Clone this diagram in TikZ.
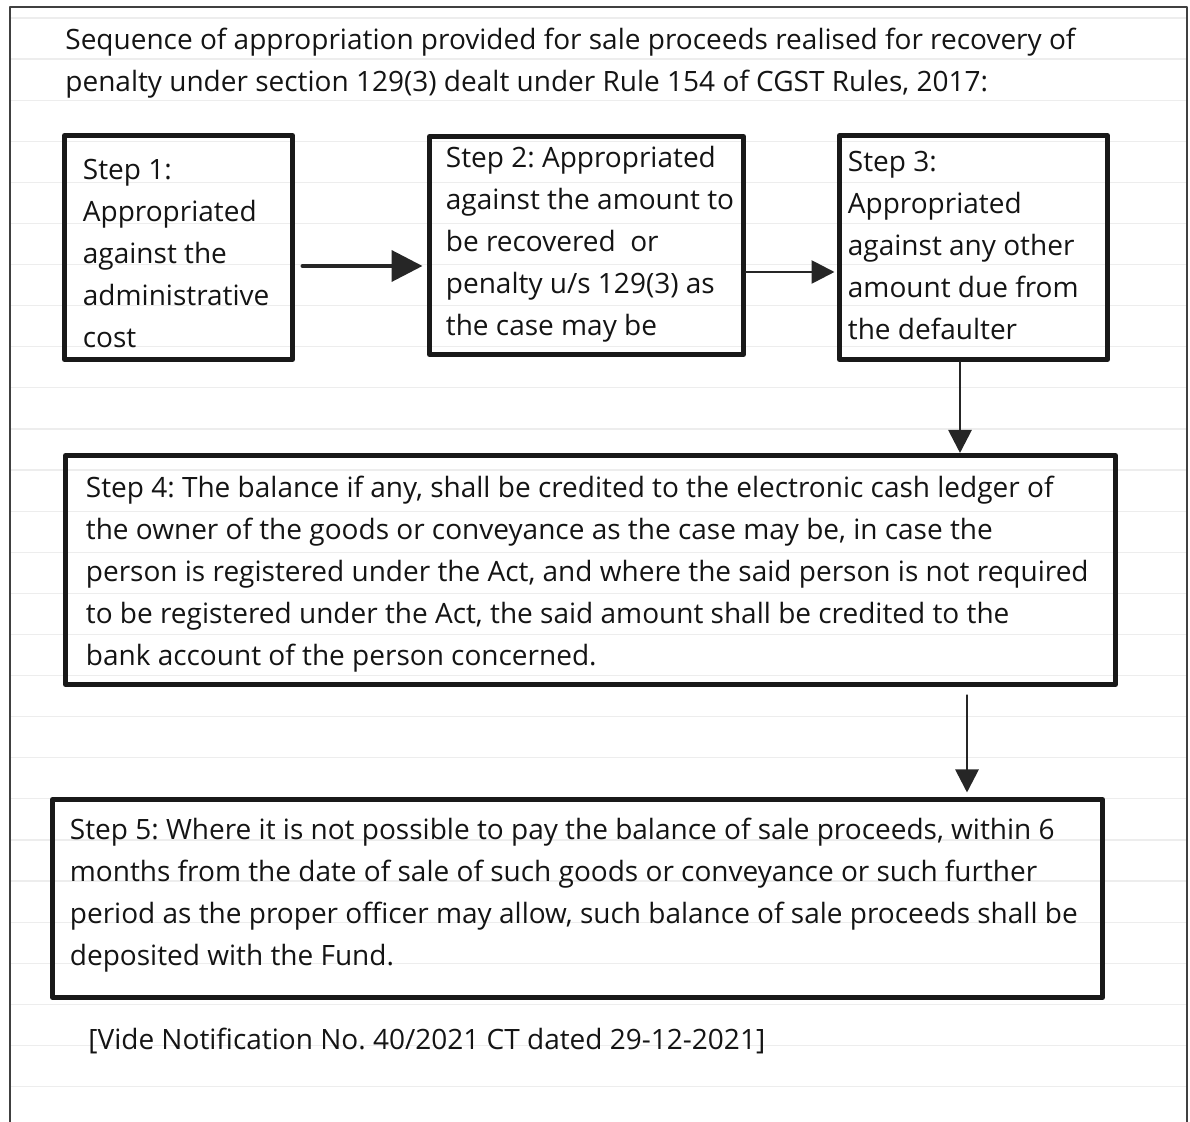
\documentclass[tikz,border=0pt]{standalone}
\usepackage{fontspec}
\setmainfont{Open Sans}
\frenchspacing
\usetikzlibrary{arrows.meta,positioning}

\begin{document}
\begin{tikzpicture}[x=0.5pt, y=-0.5pt, line cap=round, line join=round]

% --- Global TikZ Styles ---
\tikzset{
    frame/.style={
        draw=black!75,
        line width=1.3pt
    },
    ruled/.style={
        draw=black!7,
        line width=0.6pt
    },
    stepbox/.style={
        draw=black!90,
        line width=2.5pt,
        inner sep=0pt
    },
    steptext/.style={
        text=black!92,
        align=left,
        inner sep=0pt,
        anchor=base west,
        font=\fontsize{14}{21}\selectfont
    },
    bigarrow/.style={
        -{Triangle[length=15.5pt, width=15.5pt]},
        draw=black!85,
        line width=2pt
    },
    flowarrow/.style={
        -{Triangle[length=11.5pt, width=11.5pt]},
        draw=black!85,
        line width=1.4pt
    }
}

\useasboundingbox (0,0) rectangle (1190,1122);

% =========================================================================
% --- Gelinieerd papier en kader ---
% =========================================================================

\foreach \i in {0,...,26}
    \draw[ruled] (10,{18+41.1*\i}) -- (1187,{18+41.1*\i});

\draw[frame] (10,1122) -- (10,7) -- (1187,7) -- (1187,1122);

% --- Titel (anker op de basislijn van de laatste regel) ---
\node[steptext] (title) at (65,92)
    {Sequence of appropriation provided for sale proceeds realised for recovery of\\
     penalty under section 129(3) dealt under Rule 154 of CGST Rules, 2017:};

% =========================================================================
% --- Stappen ---
% =========================================================================

\node[stepbox, minimum width=114pt, minimum height=112pt] (s1) at (178.5,247.5) {};
\node[stepbox, minimum width=157pt, minimum height=109pt] (s2) at (586.5,245.5) {};
\node[stepbox, minimum width=134pt, minimum height=112pt] (s3) at (973.5,247.5) {};
\node[stepbox, minimum width=525pt, minimum height=114.5pt] (s4) at (590.5,570) {};
\node[stepbox, minimum width=525pt, minimum height=99pt] (s5) at (577.5,898.5) {};

% --- Teksten in de vakken ---
\node[steptext] (t1) at ([shift={(20.5,214.5)}]s1.north west)
    {Step 1:\\
     Appropriated\\
     against the\\
     administrative\\
     cost};

\node[steptext] (t2) at ([shift={(18.5,201.5)}]s2.north west)
    {Step 2: Appropriated\\
     against the amount to\\
     be recovered\ \ or\\
     penalty u/s 129(3) as\\
     the case may be};

\node[steptext] (t3) at ([shift={(10.5,206.5)}]s3.north west)
    {Step 3:\\
     Appropriated\\
     against any other\\
     amount due from\\
     the defaulter};

\node[steptext] (t4) at ([shift={(22.5,212.5)}]s4.north west)
    {Step 4: The balance if any, shall be credited to the electronic cash ledger of\\
     the owner of the goods or conveyance as the case may be, in case the\\
     person is registered under the Act, and where the said person is not required\\
     to be registered under the Act, the said amount shall be credited to the\\
     bank account of the person concerned.};

\node[steptext] (t5) at ([shift={(19.5,168.5)}]s5.north west)
    {Step 5: Where it is not possible to pay the balance of sale proceeds, within 6\\
     months from the date of sale of such goods or conveyance or such further\\
     period as the proper officer may allow, such balance of sale proceeds shall be\\
     deposited with the Fund.};

% --- Voetnoot ---
\node[steptext] (note) at (88,1050)
    {[Vide Notification No. 40/2021 CT dated 29-12-2021]};

% =========================================================================
% --- Pijlen ---
% =========================================================================

\draw[bigarrow] ([shift={(7.5,18.5)}]s1.east) -- ([shift={(-4.5,20.5)}]s2.west);
\draw[flowarrow] ([shift={(0,26.5)}]s2.east) -- ([shift={(-2.5,24.5)}]s3.west);
\draw[flowarrow] ([xshift=-6.75pt]s3.south) -- ([xshift=-6.75pt]s3.south |- s4.north);
\draw[flowarrow] ([shift={(376.5,8.5)}]s4.south) -- ([shift={(389.5,-4.5)}]s5.north);

\end{tikzpicture}
\end{document}
